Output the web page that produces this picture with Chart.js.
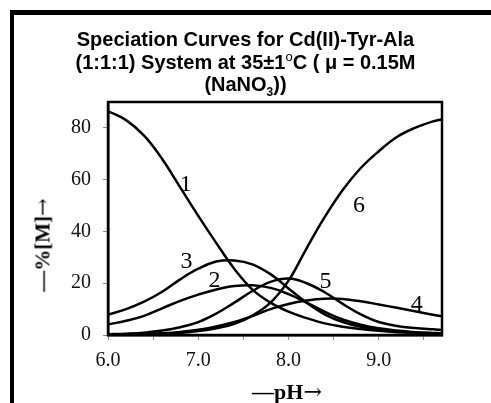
<!DOCTYPE html>
<html>
<head>
<meta charset="utf-8">
<script src="https://cdn.jsdelivr.net/npm/chart.js@4"></script>
<style>
  html, body { margin: 0; padding: 0; background: #fff; overflow: hidden; }
  #wrap { position: relative; width: 491px; height: 403px; }
  #frame { position: absolute; left: 10px; top: 10px; width: 520px; height: 440px;
           border-left: 4px solid #000; border-top: 5px solid #000; }
  #title { position: absolute; left: 0; width: 491px; top: 28px; text-align: center;
           font: bold 20px "Liberation Sans", Arial, sans-serif; line-height: 22.5px; color: #000; }
  #title sub { font-size: 12px; line-height: 0; }
  #title sup { font-size: 13px; line-height: 0; font-weight: normal; }
  #ylab { position: absolute; left: 43px; top: 245px; transform: translate(-50%, -50%) rotate(-90deg);
          font: bold 21px "Liberation Serif", serif; white-space: nowrap; color: #000; }
  #xlab { position: absolute; left: 287px; top: 392px; transform: translate(-50%, -50%);
          font: bold 22px "Liberation Serif", serif; white-space: nowrap; color: #000; }
  .arr { font-family: "DejaVu Serif", serif; font-weight: normal; }
  canvas { position: absolute; left: 0; top: 0; }
</style>
</head>
<body>
<div id="wrap">
  <div id="frame"></div>
  <canvas id="chart" width="491" height="403"></canvas>
  <div id="title">Speciation Curves for Cd(II)-Tyr-Ala<br>(1:1:1) System at 35±1<sup>o</sup>C ( μ = 0.15M<br>(NaNO<sub>3</sub>))</div>
  <div id="ylab">—%[M]<span class="arr">→</span></div>
  <div id="xlab">—pH<span class="arr">→</span></div>
</div>
<script>
// pH grid and % species
const pH = [6.0, 6.2, 6.4, 6.6, 6.8, 7.0, 7.2, 7.4, 7.6, 7.8, 8.0, 8.2, 8.4, 8.6, 8.8, 9.0, 9.2, 9.4, 9.6, 9.7];
const curve1 = [86.5, 83, 77, 68, 57, 46, 35.5, 25.5, 17.5, 12.5, 9, 6.5, 4.5, 3.2, 2.3, 1.6, 1.1, 0.8, 0.6, 0.5];
const curve2 = [4.1, 5.5, 7.4, 10.3, 13.2, 15.6, 17.6, 18.9, 19.2, 18.2, 15.8, 12.5, 9, 6, 4, 2.6, 1.7, 1.1, 0.7, 0.6];
const curve3 = [7.8, 10, 12.9, 16.7, 21.5, 25.6, 28.4, 28.8, 27.3, 23.5, 18, 12.5, 8, 5, 3.2, 2.1, 1.4, 1, 0.8, 0.7];
const curve4 = [0.1, 0.2, 0.4, 0.7, 1.2, 2, 3.3, 5, 7.3, 10, 12, 13.3, 14, 13.9, 13, 11.8, 10.5, 9.2, 7.8, 7.2];
const curve5 = [0.3, 0.5, 0.9, 1.7, 3, 5, 8.3, 12.5, 17, 20.5, 21.8, 20, 16.5, 12, 8, 5, 3.5, 2.7, 2.2, 2.0];
const curve6 = [0, 0.1, 0.2, 0.4, 0.8, 1.5, 2.6, 4.3, 7.5, 12.5, 21, 33.5, 45.5, 56, 64.5, 71, 76.5, 80, 82.5, 83.3];

const seriesNames = ["1", "2", "3", "4", "5", "6"];
const seriesValues = [curve1, curve2, curve3, curve4, curve5, curve6];
// where each curve number sits (pH, %)
const labelPH = [6.86, 7.18, 6.87, 9.42, 8.41, 8.78];
const labelVal = [58, 20.8, 28.5, 11.8, 20.4, 50];

const yTicks = [0, 20, 40, 60, 80];

const datasets = seriesValues.map((vals, i) => ({
    label: seriesNames[i],
    data: vals.map((v, j) => ({ x: pH[j], y: v })),
    borderColor: "#000",
    borderWidth: 2.5,
    pointRadius: 0,
    fill: false,
    tension: 0.4
}));

// box round the plot + curve numbers
const extras = {
    id: "extras",
    afterDatasetsDraw(chart) {
        const { ctx, chartArea: a, scales } = chart;
        ctx.save();
        ctx.strokeStyle = "#000";
        ctx.lineWidth = 2.5;
        ctx.strokeRect(a.left, a.top, a.right - a.left, a.bottom - a.top);
        ctx.fillStyle = "#000";
        ctx.font = "24px 'Liberation Serif', serif";
        ctx.textAlign = "center";
        ctx.textBaseline = "middle";
        seriesNames.forEach((n, i) => {
            ctx.fillText(n, scales.x.getPixelForValue(labelPH[i]), scales.y.getPixelForValue(labelVal[i]));
        });
        ctx.restore();
    }
};

new Chart(document.getElementById("chart").getContext("2d"), {
    type: "line",
    data: { datasets },
    plugins: [extras],
    options: {
        responsive: false,
        animation: false,
        layout: { padding: { top: 102, right: 49, left: 0, bottom: 0 } },
        plugins: { legend: { display: false }, tooltip: { enabled: false } },
        scales: {
            x: {
                type: "linear",
                min: 6.0,
                max: 9.7,
                afterFit: s => { s.height = 68; },
                border: { color: "#000", width: 2.5 },
                grid: { drawOnChartArea: false, drawTicks: true, tickLength: 5, color: "#888" },
                ticks: {
                    stepSize: 0.5,
                    includeBounds: false,
                    maxRotation: 0,
                    autoSkip: false,
                    padding: 9,
                    color: "#111",
                    font: { family: "'Liberation Serif', serif", size: 20 },
                    callback: v => (Math.abs(v - Math.round(v)) < 1e-6 ? v.toFixed(1) : "")
                }
            },
            y: {
                min: 0,
                max: 90,
                afterFit: s => { s.width = 108; },
                afterBuildTicks: s => { s.ticks = yTicks.map(v => ({ value: v })); },
                border: { color: "#000", width: 2.5 },
                grid: { drawOnChartArea: false, drawTicks: true, tickLength: 5, color: "#888" },
                ticks: {
                    padding: 12,
                    color: "#111",
                    font: { family: "'Liberation Serif', serif", size: 20 }
                }
            }
        }
    }
});
</script>
</body>
</html>
